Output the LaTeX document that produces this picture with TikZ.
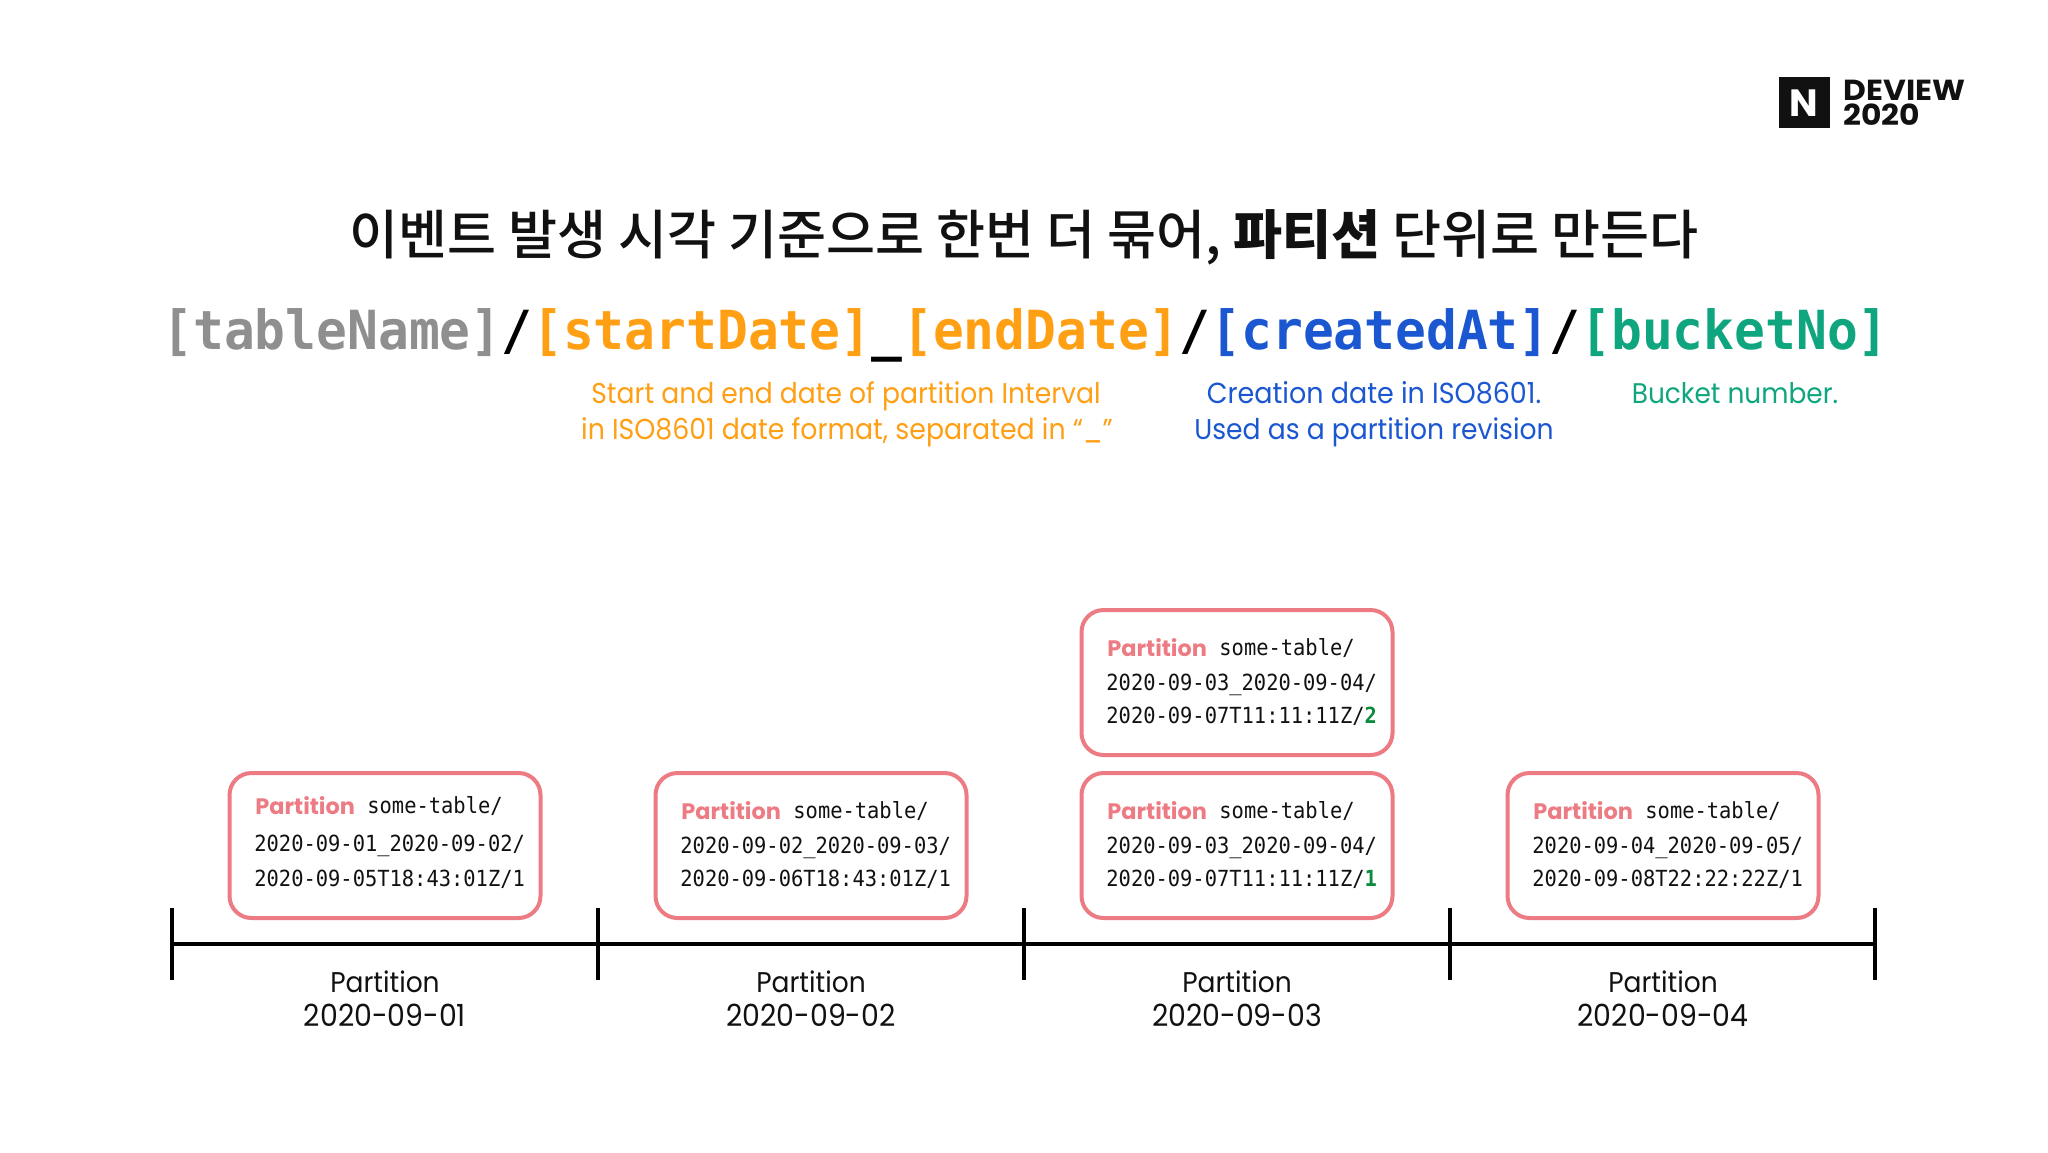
\documentclass[tikz,border=0pt]{standalone}
\usepackage{fontspec}
\setmainfont{Poppins}
\newfontfamily\capf[FakeStretch=0.93]{Poppins}
\newfontfamily\logof[FakeStretch=1.08]{Poppins}
\newfontfamily\monof[FakeStretch=0.92]{DejaVu Sans Mono}
\newfontfamily\codef[FakeStretch=0.95]{DejaVu Sans Mono}
\newfontfamily\krf[BoldFont={Noto Sans CJK KR Black}]{Noto Sans CJK KR Medium}
\newcommand{\fpx}[1]{\fontsize{\fpeval{#1/2}}{\fpeval{#1*0.6}}\selectfont}
\definecolor{cgrey}{HTML}{8F8F8F}
\definecolor{corange}{HTML}{FF9F14}
\definecolor{cblue}{HTML}{1B57D1}
\definecolor{cgreen}{HTML}{0FA67F}
\definecolor{cpink}{HTML}{ED7B84}
\definecolor{cdigit}{HTML}{0E8A3C}
\definecolor{cink}{HTML}{111111}
\tikzset{
 x=0.5pt,y=-0.5pt,
 partbox/.style={draw=cpink,line width=2pt,rounded corners=11pt,minimum width=155.5pt,minimum height=72.5pt,inner sep=0pt,fill=white},
 txt/.style={inner sep=0pt,anchor=base west,text=cink},
 ctr/.style={inner sep=0pt,anchor=base,text=cink},
 axis/.style={draw=black,line width=2pt},
}
\newcommand{\partnode}[8]{% name cx top d1 d2 digit dy1 dy2
 \node[partbox] (#1) at (#2,#3+73.5) {};
 \node[txt,text=cpink] (#1p) at (#2-130,#3+47+#7) {\fpx{22.4}\bfseries Partition};
 \node[txt] (#1t) at (#2-18,#3+46+#7) {\monof\fpx{22.2}some-table/};
 \node[txt] (#1a) at (#2-131,#3+81+#8) {\monof\fpx{22.2}#4};
 \node[txt] (#1b) at (#2-131,#3+114) {\monof\fpx{22.2}#5#6};
}
\begin{document}
\begin{tikzpicture}
\useasboundingbox (0,0) rectangle (2048,1152);
\fill[white] (0,0) rectangle (2048,1152);
% logo
\node[fill=cink,minimum size=25.5pt,inner sep=0pt] (logo) at (1804,102) {};
\node[ctr,text=white] (logon) at (1804,116.5) {\fpx{38}\bfseries N};
\node[txt] (dv) at (1843,100) {\logof\fpx{29}\bfseries DEVIEW};
\node[txt] (yr) at (1843,125) {\logof\fpx{29}\bfseries 2020};
% title
\node[ctr] (title) at (1024,254) {\krf\fpx{53.3}이벤트 발생 시각 기준으로 한번 더 묶어, {\bfseries 파티션} 단위로 만든다};
% code line
\node[txt] (code) at (162,349) {\codef\fpx{53.9}\bfseries\textcolor{cgrey}{[tableName]}\textcolor{black}{/}\textcolor{corange}{[startDate]}\textcolor{black}{\_}\textcolor{corange}{[endDate]}\textcolor{black}{/}\textcolor{cblue}{[createdAt]}\textcolor{black}{/}\textcolor{cgreen}{[bucketNo]}};
% captions
\node[ctr,text=corange] (c1) at (846,403) {\capf\fpx{28.6}Start and end date of partition Interval};
\node[ctr,text=corange] (c2) at (847,439) {\capf\fpx{28.8}in ISO8601 date format, separated in “\_”};
\node[ctr,text=cblue] (c3) at (1374,403) {\capf\fpx{29}Creation date in ISO8601.};
\node[ctr,text=cblue] (c4) at (1374,439) {\capf\fpx{28.6}Used as a partition revision};
\node[ctr,text=cgreen] (c5) at (1735,403) {\capf\fpx{28.4}Bucket number.};
% boxes
\partnode{p1}{385}{772}{2020-09-01\_2020-09-02/}{2020-09-05T18:43:01Z/}{1}{-5}{-2}
\partnode{p2}{811}{772}{2020-09-02\_2020-09-03/}{2020-09-06T18:43:01Z/}{1}{0}{0}
\partnode{p3}{1237}{772}{2020-09-03\_2020-09-04/}{2020-09-07T11:11:11Z/}{\textcolor{cdigit}{\bfseries 1}}{0}{0}
\partnode{p4}{1237}{609}{2020-09-03\_2020-09-04/}{2020-09-07T11:11:11Z/}{\textcolor{cdigit}{\bfseries 2}}{0}{0}
\partnode{p5}{1663}{772}{2020-09-04\_2020-09-05/}{2020-09-08T22:22:22Z/}{1}{0}{0}
% axis
\coordinate (a0) at (172,944); \coordinate (a4) at (1876,944);
\draw[axis] (a0) -- (a4);
\foreach \n/\xx in {t0/172,t1/598,t2/1024,t3/1450,t4/1875}{
 \coordinate (\n u) at (\xx,908); \coordinate (\n d) at (\xx,980);
 \draw[axis] (\n u) -- (\n d);
}
\foreach \n/\xx/\dd in {l1/385/2020-09-01,l2/811/2020-09-02,l3/1237/2020-09-03,l4/1663/2020-09-04}{
 \node[ctr] (\n a) at (\xx,992) {\capf\fpx{28.5}Partition};
 \node[ctr] (\n b) at (\xx,1026) {\capf\fpx{30.5}\dd};
}
\end{tikzpicture}
\end{document}
